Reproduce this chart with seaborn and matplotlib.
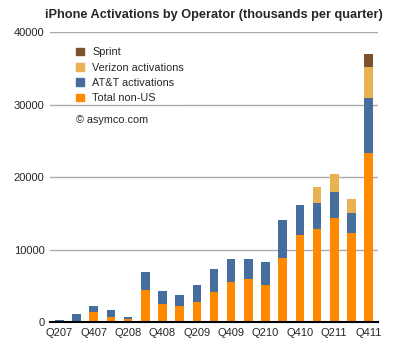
import numpy as np
import pandas as pd
import matplotlib
matplotlib.use("Agg")
import matplotlib.pyplot as plt
import matplotlib.patches as mpatches
import seaborn as sns

quarters = ["Q207", "Q307", "Q407", "Q108", "Q208", "Q308", "Q408", "Q109", "Q209", "Q309",
            "Q409", "Q110", "Q210", "Q310", "Q410", "Q111", "Q211", "Q311", "Q411"]
non_us = [0, 200, 1470, 730, 460, 4470, 2570, 2250, 2850, 4190,
          5570, 5990, 5160, 8890, 12070, 12900, 14430, 12350, 23280]
att = [300, 950, 780, 970, 270, 2490, 1760, 1530, 2310, 3180,
       3180, 2760, 3180, 5260, 4150, 3600, 3590, 2770, 7600]
verizon = [0, 0, 0, 0, 0, 0, 0, 0, 0, 0,
           0, 0, 0, 0, 0, 2080, 2350, 1930, 4290]
sprint = [0, 0, 0, 0, 0, 0, 0, 0, 0, 0,
          0, 0, 0, 0, 0, 0, 0, 0, 1800]

colors = {"Sprint": "#7b522d", "Verizon activations": "#e8b152",
          "AT&T activations": "#466e9d", "Total non-US": "#ff8a00"}

df = pd.DataFrame({"quarter": quarters, "Total non-US": non_us, "AT&T activations": att,
                   "Verizon activations": verizon, "Sprint": sprint})
# cumulative tops, drawn tallest first so the lower segments sit on top
df["top_non_us"] = df["Total non-US"]
df["top_att"] = df["top_non_us"] + df["AT&T activations"]
df["top_verizon"] = df["top_att"] + df["Verizon activations"]
df["top_sprint"] = df["top_verizon"] + df["Sprint"]

sns.set_style("white")
plt.rcParams["font.family"] = ["Liberation Sans", "DejaVu Sans"]

fig = plt.figure(figsize=(4.0, 3.52), dpi=100)
ax = fig.add_axes([0.125, 0.0844, 0.82, 0.8247])

layers = [("top_sprint", "Sprint"), ("top_verizon", "Verizon activations"),
          ("top_att", "AT&T activations"), ("top_non_us", "Total non-US")]
for col, name in layers:
    sns.barplot(data=df, x="quarter", y=col, color=colors[name], width=0.5,
                saturation=1, ax=ax, linewidth=0)

ax.set_ylim(0, 40000)
ax.set_xlim(-0.55, 18.55)
ax.set_yticks([0, 10000, 20000, 30000, 40000])
ax.set_yticklabels(["0", "10000", "20000", "30000", "40000"], fontsize=8)
ax.set_xticks(range(0, 19, 2))
ax.set_xticklabels(quarters[::2], fontsize=8)
ax.tick_params(axis="both", length=0, pad=4)
ax.set_xlabel("")
ax.set_ylabel("")
ax.yaxis.grid(True, color="#aaaaaa", linewidth=1)
ax.set_axisbelow(True)
for s in ["left", "top", "right"]:
    ax.spines[s].set_visible(False)
ax.spines["bottom"].set_color("black")
ax.spines["bottom"].set_linewidth(1.5)

ax.set_title("iPhone Activations by Operator (thousands per quarter)",
             fontsize=9.2, fontweight="bold", pad=10)

handles = [mpatches.Patch(color=colors[n], label=n) for _, n in layers]
leg = ax.legend(handles=handles, loc="upper left", bbox_to_anchor=(0.08, 0.948),
                frameon=True, fontsize=7.8, handlelength=0.7, handleheight=0.7,
                handletextpad=0.8, labelspacing=0.5, borderaxespad=0, borderpad=0)
leg.get_frame().set_facecolor("white")
leg.get_frame().set_edgecolor("white")
ax.text(0.08, 0.696, "\u00a9 asymco.com", transform=ax.transAxes, fontsize=7.8,
        va="center", ha="left")

fig.savefig("out.png", dpi=100)
